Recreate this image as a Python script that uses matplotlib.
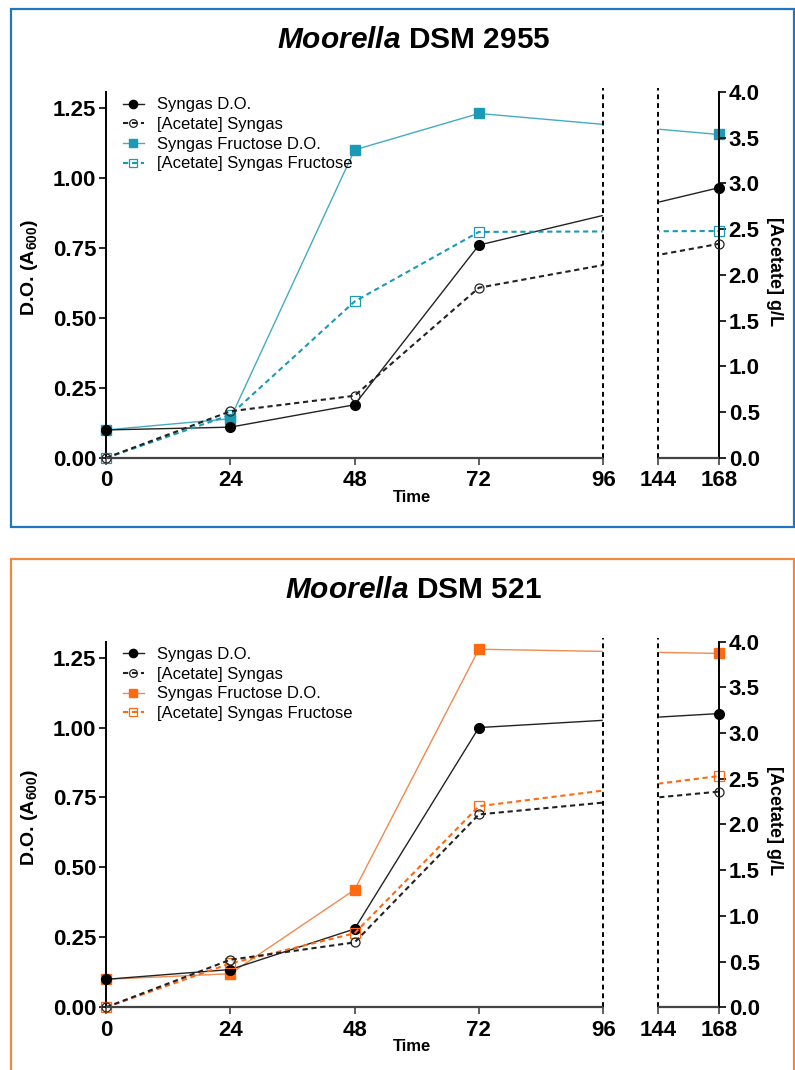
import numpy as np
import matplotlib
matplotlib.use("Agg")
import matplotlib.pyplot as plt
from matplotlib.patches import Rectangle

plt.rcParams['font.family'] = ['Liberation Sans', 'DejaVu Sans']
plt.rcParams['mathtext.fontset'] = 'custom'
plt.rcParams['mathtext.it'] = 'Liberation Sans:bold:italic'
plt.rcParams['mathtext.rm'] = 'Liberation Sans'

# sampling times (h)
time = [0, 24, 48, 72, 168]
x_ticks = [0, 24, 48, 72, 96, 144, 168]
do_ticks = [0.00, 0.25, 0.50, 0.75, 1.00, 1.25]
acetate_ticks = [0.0, 0.5, 1.0, 1.5, 2.0, 2.5, 3.0, 3.5, 4.0]

labels = ['Syngas D.O.', '[Acetate] Syngas',
          'Syngas Fructose D.O.', '[Acetate] Syngas Fructose']

# Moorella DSM 2955
dsm2955_syngas_do = [0.10, 0.11, 0.19, 0.76, 0.965]
dsm2955_syngas_acetate = [0.0, 0.51, 0.68, 1.86, 2.34]
dsm2955_fructose_do = [0.10, 0.14, 1.10, 1.23, 1.155]
dsm2955_fructose_acetate = [0.0, 0.47, 1.71, 2.47, 2.48]

# Moorella DSM 521
dsm521_syngas_do = [0.10, 0.135, 0.28, 1.00, 1.05]
dsm521_syngas_acetate = [0.0, 0.52, 0.71, 2.11, 2.36]
dsm521_fructose_do = [0.10, 0.12, 0.42, 1.28, 1.265]
dsm521_fructose_acetate = [0.0, 0.48, 0.81, 2.20, 2.53]


# broken time axis: 0-96 full scale, 96-144 squeezed into a gap, 144-168 half scale
def fwd(t):
    t = np.asarray(t, dtype=float)
    return np.where(t <= 96, t,
                    np.where(t >= 144, 106.6 + (t - 144) * 0.49,
                             96 + (t - 96) * 10.6 / 48))

def inv(p):
    p = np.asarray(p, dtype=float)
    return np.where(p <= 96, p,
                    np.where(p >= 106.6, 144 + (p - 106.6) / 0.49,
                             96 + (p - 96) * 48 / 10.6))


def panel(fig, rect, title, title_y, frame, col, col_line,
          s_do, s_ac, f_do, f_ac):
    ax = fig.add_axes(rect)
    ax.set_xscale('function', functions=(fwd, inv))
    ax2 = ax.twinx()

    h1, = ax.plot(time, s_do, color='#222222', lw=1.0, marker='o', ms=7,
                  mfc='black', mec='black', clip_on=False, zorder=3)
    h3, = ax.plot(time, f_do, color=col_line, lw=1.0, marker='s', ms=7,
                  mfc=col, mec=col, clip_on=False, zorder=2)
    h2, = ax2.plot(time, s_ac, color='#222222', lw=1.5, ls=(0, (2.5, 1.8)),
                   marker='o', ms=6.5, mfc='none', mec='#222222', mew=0.9,
                   clip_on=False, zorder=3)
    h4, = ax2.plot(time, f_ac, color=col, lw=1.5, ls=(0, (2.5, 1.8)),
                   marker='s', ms=6.5, mfc='none', mec=col, mew=0.9,
                   clip_on=False, zorder=2)

    # hide the gap of the broken axis
    ax2.axvspan(96, 144, color='white', zorder=5)
    for xb in (96, 144):
        ax2.axvline(xb, ymin=0, ymax=1.01, color='black', lw=1.4,
                    ls=(0, (2.5, 2)), zorder=6, clip_on=False)
    tr = ax2.get_xaxis_transform()
    ax2.plot([0, 96], [0, 0], transform=tr, color='#444444', lw=1.6,
             clip_on=False, zorder=7, solid_capstyle='butt')
    ax2.plot([144, 168], [0, 0], transform=tr, color='#444444', lw=1.6,
             clip_on=False, zorder=7, solid_capstyle='butt')

    ax.set_xlim(0, 168)
    ax.set_ylim(0, 1.307)
    ax2.set_ylim(0, 4.0)
    ax.set_xticks(x_ticks)
    ax.set_xticklabels([str(t) for t in x_ticks])
    ax.set_yticks(do_ticks)
    ax.set_yticklabels(['%.2f' % v for v in do_ticks])
    ax2.set_yticks(acetate_ticks)
    ax2.set_yticklabels(['%.1f' % v for v in acetate_ticks])

    for a in (ax, ax2):
        a.spines['top'].set_visible(False)
        a.spines['bottom'].set_visible(False)
        a.tick_params(labelsize=16, length=5, width=1.2, pad=2, direction='out')
        for lab in a.get_xticklabels() + a.get_yticklabels():
            lab.set_fontweight('bold')
    ax.spines['right'].set_visible(False)
    ax2.spines['left'].set_visible(False)
    ax.spines['left'].set_linewidth(1.4)
    ax2.spines['right'].set_linewidth(1.4)
    ax.tick_params(axis='x', color='#444444', pad=4)

    ax.text(-0.124, 0.52, r'D.O. (A$_\mathregular{600}$)', transform=ax.transAxes,
            rotation=90, ha='center', va='center', fontsize=14, fontweight='bold')
    ax.text(1.091, 0.51, '[Acetate] g/L', transform=ax.transAxes,
            rotation=270, ha='center', va='center', fontsize=13, fontweight='bold')
    ax.text(0.499, -0.107, 'Time', transform=ax.transAxes,
            ha='center', va='center', fontsize=12, fontweight='bold')

    leg = ax2.legend([h1, h2, h3, h4], labels, loc='upper left',
                     bbox_to_anchor=(0.027, 0.985), frameon=False, fontsize=12,
                     handlelength=1.3, handletextpad=0.75, labelspacing=0.28,
                     borderpad=0, borderaxespad=0, markerscale=0.85)
    leg.set_zorder(10)

    fig.text(413.5 / 795, title_y, title, ha='center', va='center',
             fontsize=21.5, fontweight='bold')

    fig.patches.append(Rectangle(frame[0], frame[1], frame[2], fill=False,
                                 edgecolor=frame[3], lw=1.6,
                                 transform=fig.transFigure, figure=fig))
    return ax, ax2


fig = plt.figure(figsize=(7.95, 10.7), dpi=100)

panel(fig, [0.1333, 0.5720, 0.7711, 0.3421], r'$\mathit{Moorella}$ DSM 2955',
      1 - 40 / 1070, ((11 / 795, 1 - 526.7 / 1070), 783 / 795, 517.4 / 1070, '#1f77c4'),
      '#1a9ab5', '#45abc2',
      dsm2955_syngas_do, dsm2955_syngas_acetate,
      dsm2955_fructose_do, dsm2955_fructose_acetate)

panel(fig, [0.1333, 0.0586, 0.7711, 0.3417], r'$\mathit{Moorella}$ DSM 521',
      1 - 589.5 / 1070, ((11 / 795, -0.02), 783 / 795, (1070 - 558.7) / 1070 + 0.02, '#f0883e'),
      '#ff6a10', '#f08a50',
      dsm521_syngas_do, dsm521_syngas_acetate,
      dsm521_fructose_do, dsm521_fructose_acetate)

plt.savefig('out.png', dpi=100)
